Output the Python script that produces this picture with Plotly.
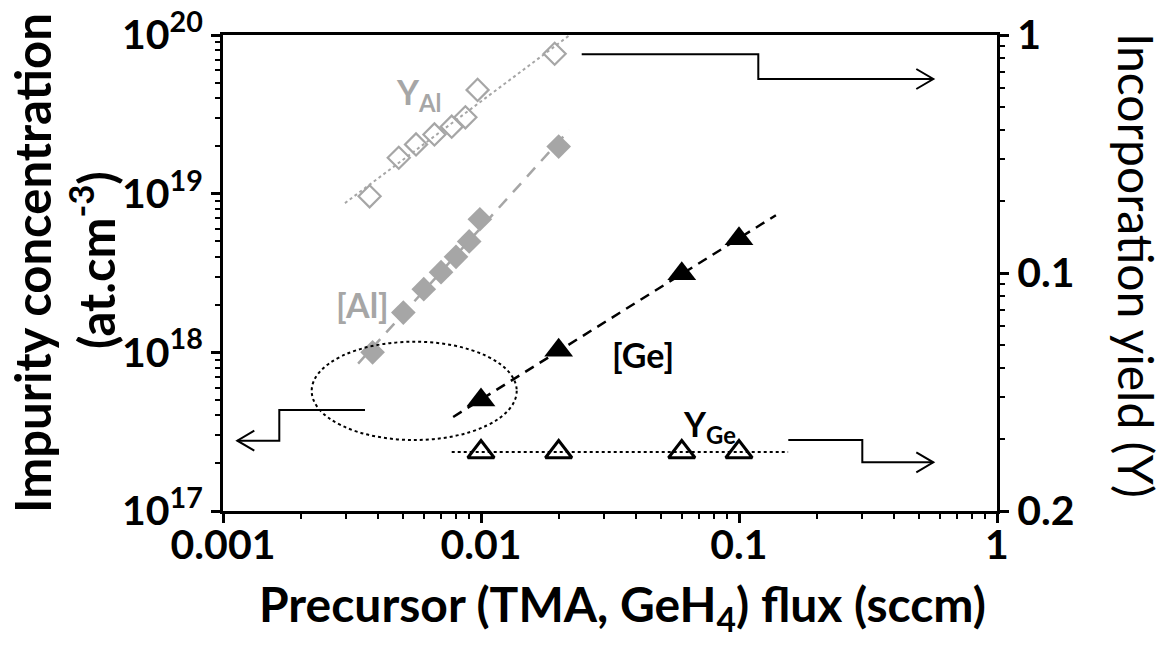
import numpy as np
import plotly.graph_objects as go

# ---------------- data ----------------
al_flux = [0.0038, 0.0050, 0.0060, 0.0070, 0.0080, 0.0090, 0.0099, 0.0200]
al_conc = [1.0e18, 1.78e18, 2.5e18, 3.2e18, 4.0e18, 5.0e18, 6.9e18, 1.98e19]

yal_flux = [0.0037, 0.0048, 0.0056, 0.0066, 0.0077, 0.0087, 0.0097, 0.0193]
yal_yield = [0.210, 0.305, 0.347, 0.382, 0.412, 0.451, 0.588, 0.834]

ge_flux = [0.01, 0.02, 0.06, 0.1]
ge_conc = [5.0e17, 1.03e18, 3.13e18, 5.2e18]

yge_flux = [0.01, 0.02, 0.06, 0.1]
yge_yield = [0.0177, 0.0177, 0.0177, 0.0177]

# extents of the fitted guide lines (flux)
al_fit_extent = [0.00334, 0.022]
yal_fit_extent = [0.00297, 0.024]
ge_fit_extent = [0.0078, 0.139]
yge_fit_extent = [0.0077, 0.155]

x_tickvals = [0.001, 0.01, 0.1, 1]
x_ticktext = ["0.001", "0.01", "0.1", "1"]
y_tickvals = [1e17, 1e18, 1e19, 1e20]
y_ticktext = ["10<sup>17</sup>", "10<sup>18</sup>", "10<sup>19</sup>", "10<sup>20</sup>"]
y2_tickvals = [0.01, 0.1, 1]
y2_ticktext = ["0.2", "0.1", "1"]

GRAY = "#a6a6a6"
FONT = "Lato"


def loglog_fit(x, y, extent):
    k, b = np.polyfit(np.log10(x), np.log10(y), 1)
    xe = np.array(extent)
    return xe, 10 ** (k * np.log10(xe) + b)


def minor_vals(e0, e1):
    return [m * 10.0 ** e for e in range(e0, e1) for m in range(2, 10)]


fig = go.Figure()

# fitted guide lines
xf, yf = loglog_fit(yal_flux, yal_yield, yal_fit_extent)
fig.add_trace(go.Scatter(x=xf, y=yf, yaxis="y2", mode="lines",
                         line=dict(color=GRAY, width=2, dash="dot"), hoverinfo="skip"))
xf, yf = loglog_fit(al_flux, al_conc, al_fit_extent)
fig.add_trace(go.Scatter(x=xf, y=yf, mode="lines",
                         line=dict(color=GRAY, width=2.5, dash="12px,9px"), hoverinfo="skip"))
xf, yf = loglog_fit(ge_flux, ge_conc, ge_fit_extent)
fig.add_trace(go.Scatter(x=xf, y=yf, mode="lines",
                         line=dict(color="black", width=2.5, dash="10px,7px"), hoverinfo="skip"))
xf, yf = loglog_fit(yge_flux, yge_yield, yge_fit_extent)
fig.add_trace(go.Scatter(x=xf, y=yf, yaxis="y2", mode="lines",
                         line=dict(color="black", width=2, dash="dot"), hoverinfo="skip"))

# markers
fig.add_trace(go.Scatter(x=yal_flux, y=yal_yield, yaxis="y2", mode="markers",
                         marker=dict(symbol="diamond-open", size=17, color=GRAY,
                                     line=dict(color=GRAY, width=2.2))))
fig.add_trace(go.Scatter(x=al_flux, y=al_conc, mode="markers",
                         marker=dict(symbol="diamond", size=19, color=GRAY,
                                     line=dict(width=0))))
fig.add_trace(go.Scatter(x=ge_flux, y=ge_conc, mode="markers",
                         marker=dict(symbol="triangle-up", size=25, color="black",
                                     line=dict(width=0))))
fig.add_trace(go.Scatter(x=yge_flux, y=yge_yield, yaxis="y2", mode="markers",
                         marker=dict(symbol="triangle-up-open", size=23, color="black",
                                     line=dict(color="black", width=3))))

# ---------------- layout ----------------
L, R, T, B = 223, 178, 35, 134
W, H = 1175, 645
PW, PH = W - L - R, H - T - B


def px(x):
    return (x - L) / PW


def py(y):
    return (H - B - y) / PH


tickfont = dict(family=FONT, size=41, color="black", weight="bold")
common = dict(showgrid=False, zeroline=False, automargin=False,
              showline=True, linecolor="black", linewidth=3,
              ticks="outside", ticklen=9, tickwidth=2.5, tickcolor="black",
              tickmode="array", tickfont=tickfont)

fig.update_layout(
    width=W, height=H, autosize=False,
    margin=dict(l=L, r=R, t=T, b=B, pad=0, autoexpand=False),
    paper_bgcolor="white", plot_bgcolor="white",
    showlegend=False,
    xaxis=dict(type="log", range=[-3, 0], mirror=True,
               tickvals=x_tickvals, ticktext=x_ticktext, ticklabelstandoff=-13,
               minor=dict(ticks="outside", ticklen=5, tickwidth=2, tickcolor="black",
                          tickvals=minor_vals(-3, 0), showgrid=False), **common),
    yaxis=dict(type="log", range=[17, 20],
               tickvals=y_tickvals, ticktext=y_ticktext,
               minor=dict(ticks="outside", ticklen=5, tickwidth=2, tickcolor="black",
                          tickvals=minor_vals(17, 20), showgrid=False), **common),
    yaxis2=dict(type="log", range=[-2, 0], overlaying="y", side="right", anchor="x",
                tickvals=y2_tickvals, ticktext=y2_ticktext,
                minor=dict(ticks="outside", ticklen=5, tickwidth=2, tickcolor="black",
                           tickvals=minor_vals(-2, 0), showgrid=False), **common),
)


def label(text, x, y, font, angle=0):
    fig.add_annotation(text=text, xref="paper", yref="paper", x=px(x), y=py(y),
                       xanchor="center", yanchor="middle", textangle=angle,
                       showarrow=False, font=font)


# ---------------- titles ----------------
title_font = dict(family=FONT, size=48, color="black", weight="bold")
label("Precursor (TMA, GeH<sub>4</sub>) flux (sccm)", 622, 607, title_font)
label("Impurity concentration", 32, 263, dict(title_font, size=49), -90)
label("(at.cm<sup>-3</sup>)", 92, 260, dict(title_font, size=49), -90)
label("Incorporation yield (Y)", 1137, 265, dict(family=FONT, size=48, color="black"), 90)

# ---------------- series labels ----------------
lab_gray = dict(family=FONT, size=34, color=GRAY, weight="bold")
lab_black = dict(family=FONT, size=34, color="black", weight="bold")
label("Y<sub>Al</sub>", 418, 94, lab_gray)
label("[Al]", 362, 304, lab_gray)
label("[Ge]", 643, 354, lab_black)
label("Y<sub>Ge</sub>", 709, 426, lab_black)

# ---------------- decorations: ellipse and step arrows ----------------
fig.add_shape(type="circle", xref="paper", yref="paper",
              x0=px(311.7), x1=px(516.7), y0=py(440), y1=py(341.7),
              line=dict(color="black", width=2, dash="dot"))


def poly_path(points):
    return "M " + " L ".join(f"{px(a):.5f},{py(b):.5f}" for a, b in points)


def step_arrow(points, direction):
    fig.add_shape(type="path", xref="paper", yref="paper", path=poly_path(points),
                  line=dict(color="black", width=2))
    tx, ty = points[-1]
    d = -1 if direction == "right" else 1
    head = [(tx + d * 17, ty - 10), (tx, ty), (tx + d * 17, ty + 10)]
    fig.add_shape(type="path", xref="paper", yref="paper", path=poly_path(head),
                  line=dict(color="black", width=2))


step_arrow([(365, 410), (279.3, 410), (279.3, 440.7), (237.3, 440.7)], "left")
step_arrow([(581.7, 54.3), (758.3, 54.3), (758.3, 79), (933.3, 79)], "right")
step_arrow([(788.3, 440), (862.3, 440), (862.3, 462.3), (933.3, 462.3)], "right")

fig.write_html("out.html", config={"displayModeBar": False},
               post_script="document.body.style.margin='0';document.body.style.padding='0';"
                           "document.body.style.overflow='hidden';")
